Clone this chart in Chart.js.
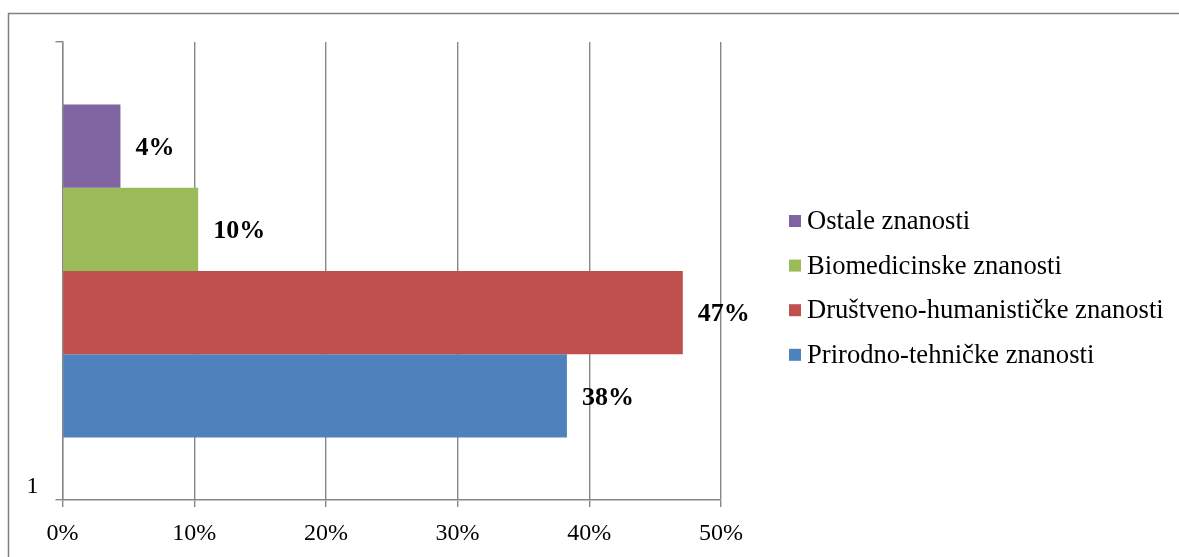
<!DOCTYPE html>
<html>
<head>
<meta charset="utf-8">
<script src="https://cdn.jsdelivr.net/npm/chart.js@4.4.0/dist/chart.umd.min.js"></script>
<style>
  body { margin: 0; background: #fff; }
  canvas { display: block; }
</style>
</head>
<body>
<canvas id="myChart" width="1179" height="557"></canvas>
<script>
// data
const categories = ['1'];
const seriesNames = ['Ostale znanosti', 'Biomedicinske znanosti', 'Društveno-humanističke znanosti', 'Prirodno-tehničke znanosti'];
const seriesValues = [0.044, 0.103, 0.471, 0.383];
const seriesColors = ['#8064A2', '#9BBB59', '#C0504D', '#4F81BD'];
const xTicks = [0, 0.1, 0.2, 0.3, 0.4, 0.5];

const lineGray = '#878787';
Chart.defaults.font.family = "'Liberation Serif', 'Times New Roman', serif";
Chart.defaults.color = '#000';

// outer frame (top + left edge only)
const framePlugin = {
  id: 'frame',
  beforeDraw(chart) {
    const ctx = chart.ctx;
    ctx.save();
    ctx.strokeStyle = '#808080';
    ctx.lineWidth = 1.5;
    ctx.beginPath();
    ctx.moveTo(8.5, chart.height);
    ctx.lineTo(8.5, 13.5);
    ctx.lineTo(chart.width, 13.5);
    ctx.stroke();
    ctx.restore();
  }
};

// bold value labels right of each bar
const valueLabels = {
  id: 'valueLabels',
  afterDatasetsDraw(chart) {
    const ctx = chart.ctx;
    ctx.save();
    ctx.font = "bold 26px 'Liberation Serif'";
    ctx.fillStyle = '#000';
    ctx.textAlign = 'left';
    ctx.textBaseline = 'middle';
    chart.data.datasets.forEach((ds, i) => {
      const meta = chart.getDatasetMeta(i);
      meta.data.forEach((bar, j) => {
        ctx.fillText(Math.round(ds.data[j] * 100) + '%', bar.x + 15, bar.y + 2);
      });
    });
    ctx.restore();
  }
};

// legend on the right
const sideLegend = {
  id: 'sideLegend',
  afterDraw(chart) {
    const ctx = chart.ctx;
    ctx.save();
    ctx.font = "26.6px 'Liberation Serif'";
    ctx.textBaseline = 'middle';
    chart.data.datasets.forEach((ds, i) => {
      const y = 221 + i * 44.6;
      ctx.fillStyle = ds.backgroundColor;
      ctx.fillRect(789, y - 6, 12, 12);
      ctx.fillStyle = '#000';
      ctx.fillText(ds.label, 807, y + 1);
    });
    ctx.restore();
  }
};

const ctx = document.getElementById('myChart').getContext('2d');
const myChart = new Chart(ctx, {
  type: 'bar',
  data: {
    labels: categories,
    datasets: seriesNames.map((name, i) => ({
      label: name,
      data: [seriesValues[i]],
      backgroundColor: seriesColors[i],
      borderWidth: 0,
      barPercentage: 1,
      categoryPercentage: 0.727
    }))
  },
  options: {
    indexAxis: 'y',
    responsive: false,
    animation: false,
    devicePixelRatio: 1,
    layout: { padding: { top: 42, right: 458, left: 0, bottom: 0 } },
    plugins: {
      legend: { display: false },
      tooltip: { enabled: false }
    },
    scales: {
      x: {
        min: 0,
        max: 0.5,
        afterBuildTicks: (scale) => { scale.ticks = xTicks.map(v => ({ value: v })); },
        afterFit: (scale) => { scale.height = 57; },
        ticks: {
          font: { size: 24 },
          padding: 12,
          callback: (v) => Math.round(v * 100) + '%'
        },
        grid: { color: lineGray, lineWidth: 1.4, tickLength: 7 },
        border: { color: lineGray, width: 1.4 }
      },
      y: {
        afterFit: (scale) => { scale.width = 62.5; },
        ticks: { font: { size: 24 }, padding: 17, labelOffset: 216 },
        grid: { drawOnChartArea: false, color: lineGray, lineWidth: 1.4, tickLength: 7, offset: true },
        border: { color: lineGray, width: 1.4 }
      }
    }
  },
  plugins: [framePlugin, valueLabels, sideLegend]
});
</script>
</body>
</html>
